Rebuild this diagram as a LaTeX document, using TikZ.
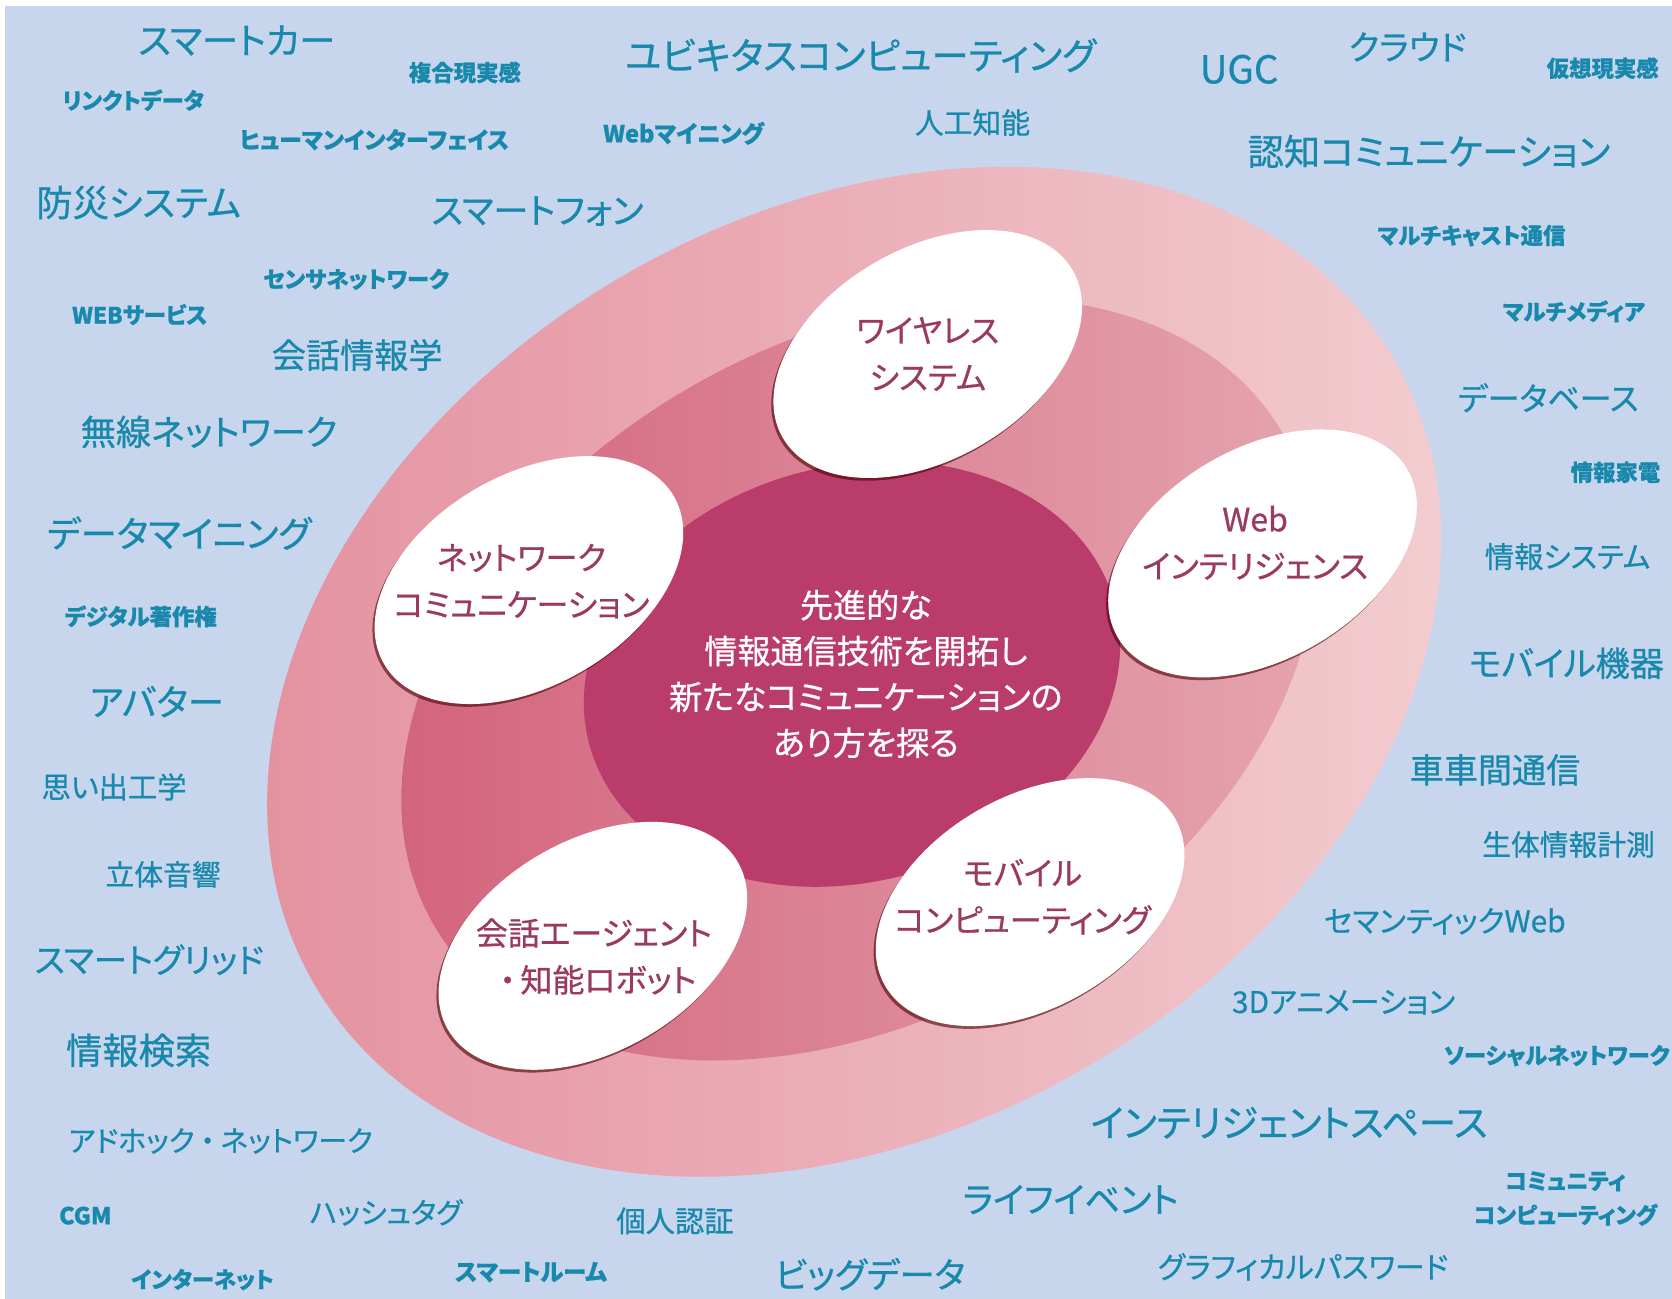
\documentclass[tikz,border=0pt]{standalone}
\usepackage{fontspec}
\setmainfont{Noto Sans CJK JP}[RawFeature=+palt, FakeBold=0.7]
\usetikzlibrary{shapes.geometric,shadows}
\definecolor{bgc}{HTML}{C8D6ED}
\definecolor{kwc}{HTML}{1888AD}
\definecolor{lbc}{HTML}{9A3A60}
\definecolor{outL}{HTML}{E38E9D}
\definecolor{outR}{HTML}{F3D0D3}
\definecolor{midL}{HTML}{D2607B}
\definecolor{midR}{HTML}{E6A8B2}
\definecolor{inc}{HTML}{B93C6B}
\newcommand\fz[2]{\fontsize{#1pt}{#2pt}\selectfont}
\begin{document}
\begin{tikzpicture}[x=0.5pt,y=-0.5pt,
  kw/.style={text=kwc, inner sep=0pt, align=center},
  ring/.style={ellipse, draw=none, inner sep=0pt},
  wel/.style={ellipse, fill=white, inner sep=0pt, minimum width=157pt, minimum height=99pt, rotate=30,
     drop shadow={shadow xshift=-1pt, shadow yshift=-1.3pt, opacity=0.6, fill=black!70!red}},
  lab/.style={text=lbc, inner sep=0pt, align=center, font=\fz{15}{22}}]
\useasboundingbox (0,0) rectangle (1568,1218);
\fill[white] (0,0) rectangle (1568,1218);
\fill[bgc] (4.5,5.5) rectangle (1568,1218);

% rings
\node[ring, left color=outL, right color=outR, minimum width=585pt, minimum height=430pt, rotate=30] (outer) at (801,630) {};
\node[ring, left color=midL, right color=midR, minimum width=460pt, minimum height=316pt, rotate=30] (middle) at (805,637) {};
\node[ring, fill=inc, minimum width=255pt, minimum height=195pt, rotate=15] (inner) at (799,632) {};
\node[text=white, inner sep=0pt, align=center, font=\fz{15.5}{21.5}] (core) at (812,632)
  {先進的な\\情報通信技術を開拓し\\新たなコミュニケーションの\\あり方を探る};

% white ellipses
\node[wel] (wire) at (870,332) {};
\node[lab] (wiretxt) at (wire.center) {ワイヤレス\\システム};
\node[wel] (web) at (1184,519) {};
\node[lab] (webtxt) at (1177,509) {Web\\インテリジェンス};
\node[wel] (net) at (496,544) {};
\node[lab] (nettxt) at (489,545) {ネットワーク\\コミュニケーション};
\node[wel] (agent) at (556,887) {};
\node[lab] (agenttxt) at (557,897) {会話エージェント\\\hspace{0.25em}・\hspace{0.15em}知能ロボット};
\node[wel] (mob) at (966,846) {};
\node[lab] (mobtxt) at (959,841) {モバイル\\コンピューティング};

% keywords
\node[kw, font=\fz{17}{17}] (k1) at (222,38) {スマートカー};
\node[kw, font=\fz{10.5}{10.5}\bfseries] (k2) at (436,68) {複合現実感};
\node[kw, font=\fz{10.5}{10.5}\bfseries] (k3) at (125,94) {リンクトデータ};
\node[kw, font=\fz{10.75}{10.75}\bfseries] (k4) at (351,131) {ヒューマンインターフェイス};
\node[kw, font=\fz{17}{17}] (k5) at (130,190) {防災システム};
\node[kw, font=\fz{16.5}{16.5}] (k6) at (504,198) {スマートフォン};
\node[kw, font=\fz{10.5}{10.5}\bfseries] (k7) at (334,262) {センサネットワーク};
\node[kw, font=\fz{10.5}{10.5}\bfseries] (k8) at (131,295) {WEBサービス};
\node[kw, font=\fz{16}{16}] (k9) at (335,333) {会話情報学};
\node[kw, font=\fz{16.5}{16.5}] (k10) at (196,405) {無線ネットワーク};
\node[kw, font=\fz{17}{17}] (k11) at (168,500) {データマイニング};
\node[kw, font=\fz{10.5}{10.5}\bfseries] (k12) at (132,578) {デジタル著作権};
\node[kw, font=\fz{17}{17}] (k13) at (147,658) {アバター};
\node[kw, font=\fz{13.75}{13.75}] (k14) at (107,738) {思い出工学};
\node[kw, font=\fz{13.5}{13.5}] (k15) at (153,820) {立体音響};
\node[kw, font=\fz{15.75}{15.75}] (k16) at (140,900) {スマートグリッド};
\node[kw, font=\fz{17}{17}] (k17) at (130,985) {情報検索};
\node[kw, font=\fz{13.5}{13.5}] (k18) at (207,1070) {アドホック\hspace{0.2em}・\hspace{0.2em}ネットワーク};
\node[kw, font=\fz{11}{11}\bfseries] (k19) at (80,1140) {CGM};
\node[kw, font=\fz{13.5}{13.5}] (k20) at (362,1137) {ハッシュタグ};
\node[kw, font=\fz{10.5}{10.5}\bfseries] (k21) at (190,1200) {インターネット};
\node[kw, font=\fz{11}{11}\bfseries] (k22) at (498,1193) {スマートルーム};
\node[kw, font=\fz{13.75}{13.75}] (k23) at (633,1145) {個人認証};
\node[kw, font=\fz{16.5}{16.5}] (k24) at (816,1195) {ビッグデータ};
\node[kw, font=\fz{16.5}{16.5}] (k25) at (1004,1125) {ライフイベント};
\node[kw, font=\fz{17.5}{17.5}] (k26) at (1209,1053) {インテリジェントスペース};
\node[kw, font=\fz{14}{14}] (k27) at (1222,1188) {グラフィカルパスワード};
\node[kw, font=\fz{10.5}{16}\bfseries] (k28) at (1468,1124) {コミュニティ\\コンピューティング};
\node[kw, font=\fz{10.5}{10.5}\bfseries] (k29) at (1460,990) {ソーシャルネットワーク};
\node[kw, font=\fz{14}{14}] (k30) at (1260,940) {3Dアニメーション};
\node[kw, font=\fz{14}{14}] (k31) at (1355,864) {セマンティックWeb};
\node[kw, font=\fz{13.5}{13.5}] (k32) at (1471,792) {生体情報計測};
\node[kw, font=\fz{16}{16}] (k33) at (1402,722) {車車間通信};
\node[kw, font=\fz{16}{16}] (k34) at (1469,622) {モバイル機器};
\node[kw, font=\fz{13.75}{13.75}] (k35) at (1470,522) {情報システム};
\node[kw, font=\fz{10.5}{10.5}\bfseries] (k36) at (1515,443) {情報家電};
\node[kw, font=\fz{15}{15}] (k37) at (1452,373) {データベース};
\node[kw, font=\fz{10.5}{10.5}\bfseries] (k38) at (1476,292) {マルチメディア};
\node[kw, font=\fz{10.5}{10.5}\bfseries] (k39) at (1380,221) {マルチキャスト通信};
\node[kw, font=\fz{17}{17}] (k40) at (1340,142) {認知コミュニケーション};
\node[kw, font=\fz{10.5}{10.5}\bfseries] (k41) at (1503,64) {仮想現実感};
\node[kw, font=\fz{16}{16}] (k42) at (1320,44) {クラウド};
\node[kw, font=\fz{18}{18}] (k43) at (1162,65) {UGC};
\node[kw, font=\fz{17.5}{17.5}] (k44) at (807,52) {ユビキタスコンピューティング};
\node[kw, font=\fz{11}{11}\bfseries] (k45) at (641,125) {Webマイニング};
\node[kw, font=\fz{13.5}{13.5}] (k46) at (912,115) {人工知能};
\end{tikzpicture}
\end{document}
